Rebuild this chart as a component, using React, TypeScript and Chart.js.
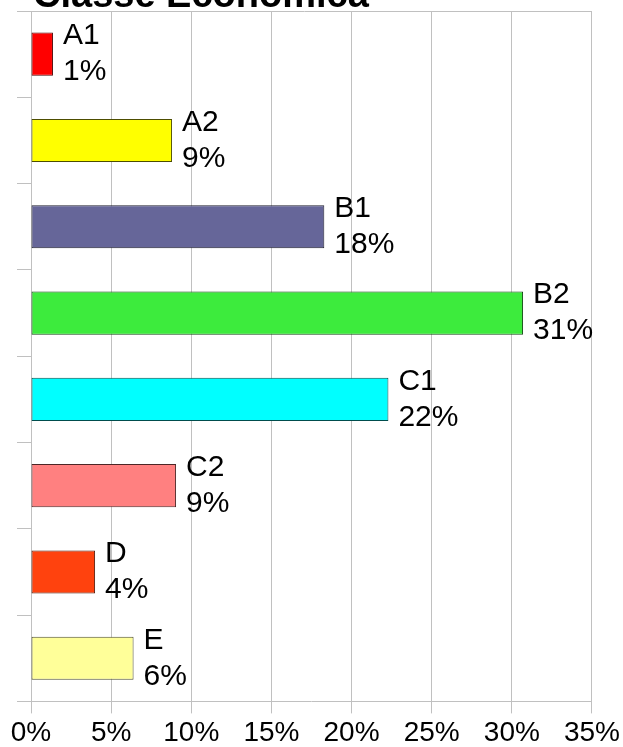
import React, { useEffect, useRef } from "react";
import { Chart, registerables } from "chart.js";

Chart.register(...registerables);

const titleText = "Classe Econômica";
const categories = ["A1", "A2", "B1", "B2", "C1", "C2", "D", "E"];
const values = [1.37, 8.8, 18.3, 30.7, 22.3, 9.05, 4.0, 6.4];
const fillColors = ["#ff0000", "#ffff00", "#666699", "#3deb3d", "#00ffff", "#ff8080", "#ff420e", "#ffff99"];
const borderColors = ["#4d0000", "#4d4d00", "#1f1f2e", "#124612", "#004d4d", "#4d2626", "#4d1404", "#4d4d2e"];
const xTicks = [0, 5, 10, 15, 20, 25, 30, 35];

const FONT = "'Liberation Sans', Arial, sans-serif";

const labelPlugin = {
  id: "barLabels",
  beforeDatasetsDraw(chart: any) {
    const { ctx, chartArea } = chart;
    ctx.save();
    ctx.strokeStyle = "#c0c0c0";
    ctx.lineWidth = 1;
    ctx.beginPath();
    ctx.moveTo(chartArea.left - 14, chartArea.top + 0.5);
    ctx.lineTo(chartArea.right, chartArea.top + 0.5);
    ctx.stroke();
    ctx.restore();
  },
  afterDatasetsDraw(chart: any) {
    const { ctx } = chart;
    const meta = chart.getDatasetMeta(0);
    ctx.save();
    ctx.fillStyle = "#000";
    ctx.font = `30px ${FONT}`;
    ctx.textAlign = "left";
    ctx.textBaseline = "middle";
    meta.data.forEach((el: any, i: number) => {
      const x = el.x + 10;
      ctx.fillText(categories[i], x, el.y - 18);
      ctx.fillText(Math.round(values[i]) + "%", x, el.y + 18);
    });
    ctx.restore();
  },
  afterDraw(chart: any) {
    const { ctx } = chart;
    ctx.save();
    ctx.fillStyle = "#000";
    ctx.font = `bold 38px ${FONT}`;
    ctx.textAlign = "left";
    ctx.textBaseline = "alphabetic";
    ctx.fillText(titleText, 33, 7);
    ctx.restore();
  },
};

export default function App() {
  const ref = useRef<HTMLCanvasElement>(null);
  useEffect(() => {
    if (!ref.current) return;
    const chart = new Chart(ref.current, {
      type: "bar",
      data: {
        labels: categories,
        datasets: [
          {
            data: values,
            backgroundColor: fillColors,
            borderColor: borderColors,
            borderWidth: 1,
            borderSkipped: false,
            categoryPercentage: 1,
            barPercentage: 0.5,
          },
        ],
      },
      options: {
        indexAxis: "y",
        responsive: false,
        animation: false,
        layout: { padding: { left: 17, top: 11, right: 31, bottom: 0 } },
        plugins: {
          legend: { display: false },
          tooltip: { enabled: false },
          title: { display: false },
        },
        scales: {
          x: {
            min: 0,
            max: 35,
            afterBuildTicks: (scale: any) => {
              scale.ticks = xTicks.map((v) => ({ value: v }));
            },
            ticks: {
              callback: (v: any) => v + "%",
              color: "#000",
              font: { family: FONT, size: 28 },
              padding: 3,
              maxRotation: 0,
              autoSkip: false,
            },
            grid: { color: "#c0c0c0", tickLength: 12, lineWidth: 1 },
            border: { color: "#c0c0c0" },
          },
          y: {
            type: "category",
            ticks: { display: false },
            grid: {
              offset: true,
              drawOnChartArea: false,
              color: "#c0c0c0",
              tickLength: 14,
            },
            border: { color: "#c0c0c0" },
          },
        },
      },
      plugins: [labelPlugin],
    } as any);
    return () => chart.destroy();
  }, []);
  return (
    <div style={{ position: "absolute", left: 0, top: 0, width: 623, height: 747, overflow: "hidden" }}>
      <canvas ref={ref} width={623} height={753} style={{ display: "block" }} />
    </div>
  );
}
